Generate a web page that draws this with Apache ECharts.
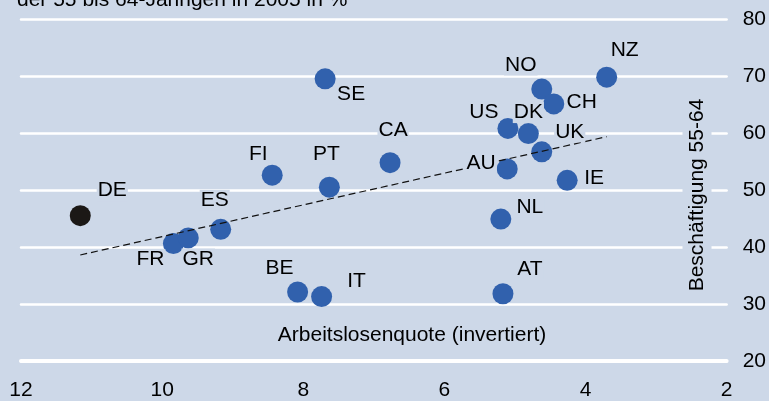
<!DOCTYPE html>
<html>
<head>
<meta charset="utf-8">
<script src="https://cdn.jsdelivr.net/npm/echarts@6/dist/echarts.min.js"></script>
<style>
html,body{margin:0;padding:0;background:#cdd8e8;}
#c{width:769px;height:401px;}
</style>
</head>
<body>
<div id="c"></div>
<script>
// ---- data ----
const countries    = ['DE','FR','GR','ES','FI','PT','SE','CA','BE','IT','NZ','NO','CH','US','DK','UK','AU','IE','NL','AT'];
const unemployment = [11.16,9.84,9.63,9.17,8.44,7.63,7.69,6.77,8.08,7.74,3.70,4.62,4.45,5.10,4.81,4.62,5.11,4.26,5.20,5.17];
const employment   = [45.5,40.6,41.6,43.1,52.6,50.5,69.5,54.8,32.1,31.3,69.8,67.7,65.1,60.8,59.9,56.7,53.7,51.7,44.9,31.8];
const highlighted  = ['DE'];
const trendX = [11.16, 3.70];
const trendY = [38.6, 59.35];
const xTicks = [2, 12, 2];   // min, max, interval
const yTicks = [20, 80, 10];
const titleText = 'der 55 bis 64-Jährigen in 2005 in %';
const xName = 'Arbeitslosenquote (invertiert)';
const yName = 'Beschäftigung 55-64';

// ---- layout / style (label offsets in px relative to point) ----
const labelOffset = {
  DE:[32,-25], FR:[-23,16], GR:[10,21], ES:[-6,-29], FI:[-14,-21], PT:[-3,-33],
  SE:[26,15], CA:[3,-32], BE:[-18,-24], IT:[35,-15], NZ:[18,-27], NO:[-21,-24],
  CH:[28,-2], US:[-24,-16], DK:[0,-21], UK:[28,-20], AU:[-26,-6], IE:[27,-2],
  NL:[29,-12], AT:[27,-25]
};
const BG = '#cdd8e8';
const BLUE = '#3161ad';
const BLACK = '#1b1816';
const FONT = "'Liberation Sans', Arial, Helvetica, sans-serif";
const TXT = '#000000';

const pts = countries.map((c,i)=>({name:c, value:[unemployment[i], employment[i]]}));
const bluePts = pts.filter(p=>!highlighted.includes(p.name));
const blackPts = pts.filter(p=>highlighted.includes(p.name));
const labelPts = pts.map(p=>({
  name:p.name, value:p.value,
  label:{offset:labelOffset[p.name]||[0,0]}
}));

const chart = echarts.init(document.getElementById('c'), null, {renderer:'canvas'});
chart.setOption({
  backgroundColor: BG,
  animation:false,
  title:{
    text:titleText, left:17, top:-10, padding:0,
    textStyle:{fontFamily:FONT, fontSize:21, fontWeight:'normal', color:TXT}
  },
  grid:{left:21, right:38, top:19, bottom:40},
  xAxis:{
    type:'value', inverse:true, min:xTicks[0], max:xTicks[1], interval:xTicks[2],
    axisLine:{show:true, lineStyle:{color:'#ffffff', width:4, cap:'round'}},
    axisTick:{show:false},
    splitLine:{show:false},
    axisLabel:{fontFamily:FONT, fontSize:21, color:TXT, margin:19}
  },
  yAxis:{
    type:'value', position:'right', min:yTicks[0], max:yTicks[1], interval:yTicks[2],
    axisLine:{show:false}, axisTick:{show:false},
    splitLine:{show:true, lineStyle:{color:'#ffffff', width:2.5, cap:'round'}},
    axisLabel:{fontFamily:FONT, fontSize:21, color:TXT, margin:16}
  },
  graphic:[
    {type:'text', x:412, y:335, z:10,
     style:{text:xName, font:'21px '+FONT, fill:TXT, align:'center', verticalAlign:'middle'}},
    {type:'text', x:697, y:195, rotation:Math.PI/2, z:10,
     style:{text:yName, font:'21px '+FONT, fill:TXT, align:'center', verticalAlign:'middle',
            backgroundColor:BG, padding:[4,2]}}
  ],
  series:[
    {type:'scatter', z:2, symbol:'circle', symbolSize:21,
     itemStyle:{color:BLUE, opacity:1}, data:bluePts, silent:true},
    {type:'scatter', z:2, symbol:'circle', symbolSize:21,
     itemStyle:{color:BLACK, opacity:1}, data:blackPts, silent:true},
    {type:'line', z:3, symbol:'none', silent:true,
     lineStyle:{color:'#111111', width:1.2, type:[7,4]},
     data:trendX.map((x,i)=>[x, trendY[i]])},
    {type:'scatter', z:5, symbolSize:0, silent:true,
     itemStyle:{color:BG, opacity:1},
     label:{show:true, position:'inside', formatter:'{b}', fontFamily:FONT, fontSize:21,
            color:TXT, opacity:1, textBorderWidth:0, textBorderColor:'transparent',
            backgroundColor:BG, padding:[0,1], lineHeight:21},
     data:labelPts}
  ]
});
</script>
</body>
</html>
